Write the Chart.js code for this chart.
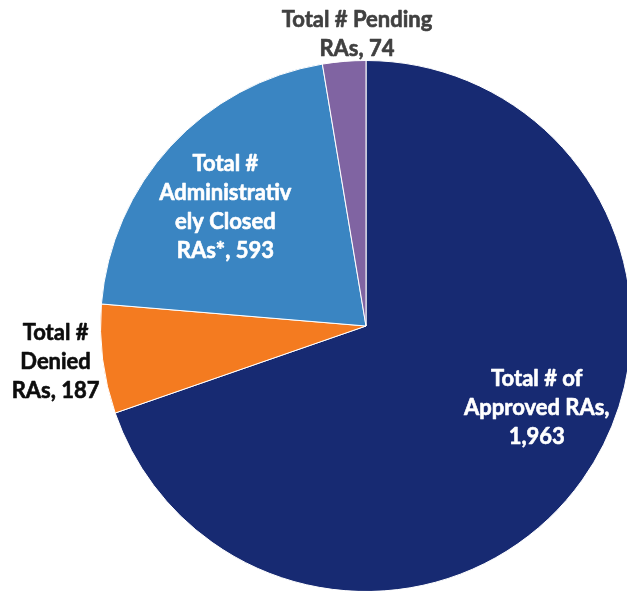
<!DOCTYPE html>
<html>
<head>
<meta charset="utf-8">
<script src="https://cdn.jsdelivr.net/npm/chart.js@4/dist/chart.umd.min.js"></script>
<style>
  html, body { margin: 0; padding: 0; background: #fff; overflow: hidden; }
  #wrap { width: 627px; height: 591px; overflow: hidden; position: relative; }
  canvas { position: absolute; left: 0; top: 0; }
</style>
</head>
<body>
<div id="wrap"><canvas id="c" width="640" height="600"></canvas></div>
<script>
// Request-for-action counts by status
const categories = [
  'Total # of Approved RAs',
  'Total # Denied RAs',
  'Total # Administratively Closed RAs*',
  'Total # Pending RAs'
];
const values = [1963, 187, 593, 74];
const labelLines = [
  ['Total # of', 'Approved RAs,', '1,963'],
  ['Total #', 'Denied', 'RAs, 187'],
  ['Total #', 'Administrativ', 'ely Closed', 'RAs*, 593'],
  ['Total # Pending', 'RAs, 74']
];
const colors = ['#172A72', '#F47B20', '#3A85C2', '#8064A2'];

// label placement: radius as a fraction of the pie radius, angle shift in degrees
const labelStyle = [
  { r: 0.713, shift: -9.85, color: '#FFFFFF' },
  { r: 1.177, shift: 0.6, color: '#0D0D0D' },
  { r: 0.692, shift: -2.6, color: '#FFFFFF' },
  { r: 1.098, shift: 2.96, color: '#404040' }
];

const sliceLabels = {
  id: 'sliceLabels',
  afterDatasetsDraw(chart) {
    const ctx = chart.ctx;
    const meta = chart.getDatasetMeta(0);
    ctx.save();
    ctx.font = 'bold 22px Lato, "Open Sans", sans-serif';
    ctx.textAlign = 'center';
    ctx.textBaseline = 'middle';
    ctx.lineWidth = 0.6;
    ctx.lineJoin = 'round';
    const lh = 29;
    meta.data.forEach((arc, i) => {
      const p = arc.getProps(['x', 'y', 'startAngle', 'endAngle', 'outerRadius'], true);
      const st = labelStyle[i];
      const a = (p.startAngle + p.endAngle) / 2 + st.shift * Math.PI / 180;
      const cx = p.x + Math.cos(a) * p.outerRadius * st.r;
      const cy = p.y + Math.sin(a) * p.outerRadius * st.r;
      const lines = labelLines[i];
      ctx.fillStyle = st.color;
      ctx.strokeStyle = st.color;
      lines.forEach((t, k) => {
        const y = cy + (k - (lines.length - 1) / 2) * lh;
        ctx.fillText(t, cx, y);
        ctx.strokeText(t, cx, y);
      });
    });
    ctx.restore();
  }
};

new Chart(document.getElementById('c'), {
  type: 'pie',
  data: {
    labels: categories,
    datasets: [{
      data: values,
      backgroundColor: colors,
      borderColor: '#FFFFFF',
      borderWidth: 1
    }]
  },
  options: {
    responsive: false,
    animation: false,
    devicePixelRatio: 1,
    layout: { padding: { left: 100, top: 60, right: 8, bottom: 8 } },
    plugins: {
      legend: { display: false },
      tooltip: { enabled: false }
    }
  },
  plugins: [sliceLabels]
});
</script>
</body>
</html>
